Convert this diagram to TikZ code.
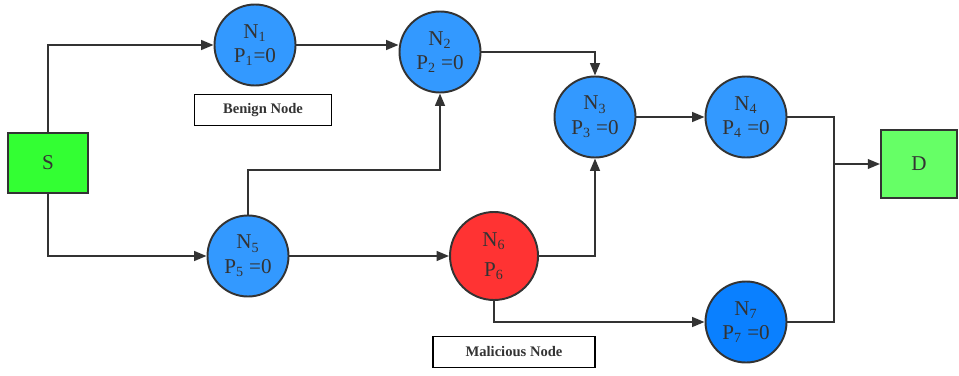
\documentclass[tikz,border=0pt]{standalone}
\usepackage{fontspec}
\setmainfont{Liberation Serif}
\usetikzlibrary{arrows.meta}
\definecolor{nodeblue}{HTML}{3399FF}
\definecolor{deepblue}{HTML}{0A80FF}
\definecolor{nodered}{HTML}{FF3333}
\definecolor{srcgreen}{HTML}{33FF33}
\definecolor{dstgreen}{HTML}{66FF66}
\definecolor{edgegray}{HTML}{333333}
\begin{document}
\begin{tikzpicture}[>={Triangle[length=7pt,width=5.5pt]},
		every node/.style={font=\fontsize{12}{13}\selectfont, text=edgegray},
		circ/.style={circle, draw=edgegray, line width=1.1pt, minimum size=1.62cm, inner sep=0pt, align=center},
		term/.style={rectangle, draw=edgegray, line width=1.1pt},
		tag/.style={rectangle, draw=black, line width=1pt, minimum height=0.62cm, font=\fontsize{8.3}{9}\selectfont\bfseries},
		link/.style={draw=edgegray, line width=1.1pt}]
		\useasboundingbox (0,0) rectangle (19.18,7.5);
		% end points
		\node[term, fill=srcgreen, minimum width=1.6cm, minimum height=1.2cm] (S) at (0.96,4.24) {S};
		\node[term, fill=dstgreen, minimum width=1.52cm, minimum height=1.36cm] (D) at (18.38,4.22) {D};
		% relay nodes
		\node[circ, fill=nodeblue] (N1) at (5.10,6.60) {N\textsubscript{1}\\[1pt]P\textsubscript{1}=0};
		\node[circ, fill=nodeblue] (N2) at (8.80,6.46) {N\textsubscript{2}\\[1pt]P\textsubscript{2} =0};
		\node[circ, fill=nodeblue] (N3) at (11.90,5.16) {N\textsubscript{3}\\[1pt]P\textsubscript{3} =0};
		\node[circ, fill=nodeblue] (N4) at (14.92,5.16) {N\textsubscript{4}\\[1pt]P\textsubscript{4} =0};
		\node[circ, fill=nodeblue] (N5) at (4.96,2.38) {N\textsubscript{5}\\[1pt]P\textsubscript{5} =0};
		\node[circ, fill=nodered, minimum size=1.76cm] (N6) at (9.88,2.38) {N\textsubscript{6}\\[4pt]P\textsubscript{6}};
		\node[circ, fill=deepblue] (N7) at (14.92,1.06) {N\textsubscript{7}\\[1pt]P\textsubscript{7} =0};
		% legend
		\node[tag, minimum width=2.74cm] (benign) at (5.26,5.30) {Benign Node};
		\node[tag, minimum width=3.24cm] (malicious) at (10.28,0.46) {Malicious Node};
		\coordinate (up) at (4.96,4.10);
		\coordinate (merge) at (16.68,4.22);
		% connectors
		\draw[link, ->] (S.north) |- (N1.west);
		\draw[link, ->] (S.south) |- (N5.west);
		\draw[link, ->] (N1.east) -- (N1.east -| N2.west);
		\draw[link, ->] (N2.east) -| (N3.north);
		\draw[link, ->] (N3) -- (N4);
		\draw[link, ->] (N5.north) -- (up) -| (N2.south);
		\draw[link, ->] (N5) -- (N6);
		\draw[link, ->] (N6.east) -| (N3.south);
		\draw[link, ->] (N6.south) |- (N7.west);
		\draw[link] (N4.east) -| (merge);
		\draw[link] (N7.east) -| (merge);
		\draw[link, ->] (merge) -- (D.west);
\end{tikzpicture}
\end{document}
